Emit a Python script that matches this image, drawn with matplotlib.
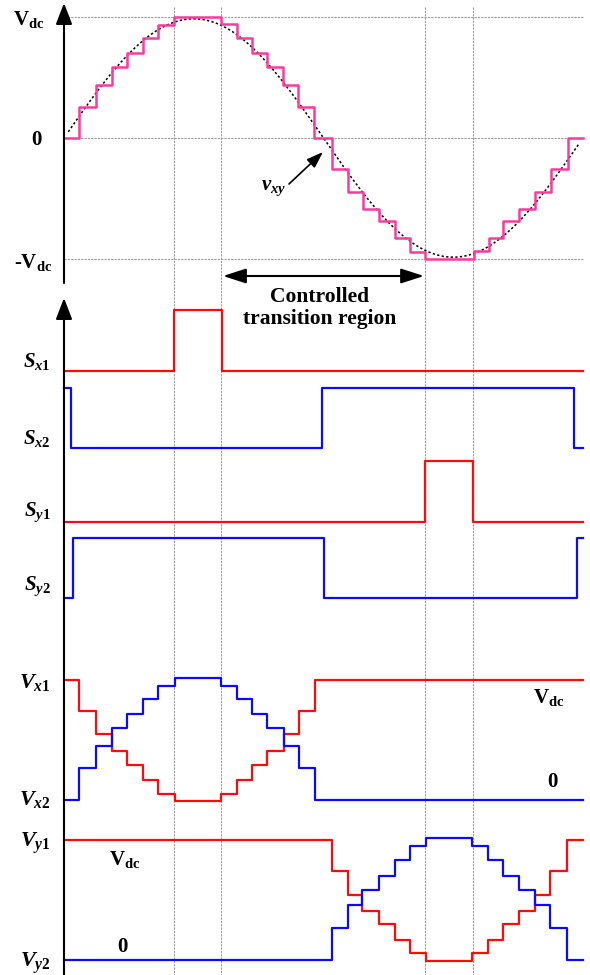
import numpy as np
import matplotlib.pyplot as plt

plt.rcParams['font.family'] = ['Liberation Serif', 'DejaVu Serif']
plt.rcParams['font.weight'] = 'bold'
plt.rcParams['mathtext.fontset'] = 'custom'
plt.rcParams['mathtext.rm'] = 'Liberation Serif:bold'
plt.rcParams['mathtext.it'] = 'Liberation Serif:bold:italic'
plt.rcParams['mathtext.bf'] = 'Liberation Serif:bold'

# --- data (angle in electrical degrees, levels in per-unit of Vdc) ---
vxy_t = [0, 10.4, 22.2, 33.3, 43.7, 54.8, 65.2, 76.3, 108.9, 120.0, 130.4, 140.8, 151.9, 162.3,
         173.4, 185.9, 197.0, 207.4, 218.5, 229.6, 240.0, 250.4, 284.4, 294.8, 304.5, 315.6,
         326.7, 337.8, 349.6, 360]
vxy_v = [0, 0.26, 0.44, 0.59, 0.70, 0.83, 0.93, 1.0, 0.94, 0.83, 0.70, 0.59, 0.44, 0.26,
         0, -0.26, -0.45, -0.59, -0.69, -0.83, -0.94, -1.0, -0.93, -0.83, -0.69, -0.59,
         -0.45, -0.26, 0, 0]
sine_amp = 0.985

sx1_t = [0, 76.3, 109.6, 360]
sx1_v = [0, 1, 0, 0]
sx2_t = [0, 4.6, 179.0, 353.8, 360]
sx2_v = [1, 0, 1, 0, 0]
sy1_t = [0, 250.4, 283.7, 360]
sy1_v = [0, 1, 0, 0]
sy2_t = [0, 6.0, 180.3, 355.8, 360]
sy2_v = [0, 1, 0, 1, 1]

vx_t = [0, 10.4, 22.5, 33.3, 43.7, 54.6, 65.2, 77.0, 108.9, 119.8, 130.2, 140.6, 152.8,
        163.0, 174.1, 360]
vx1_v = [1.0, 0.74, 0.55, 0.41, 0.29, 0.17, 0.05, -0.01, 0.05, 0.17, 0.29, 0.41, 0.55,
         0.74, 1.0, 1.0]
vx2_v = [0.0, 0.27, 0.45, 0.60, 0.72, 0.84, 0.95, 1.02, 0.95, 0.84, 0.72, 0.60, 0.45,
         0.27, 0.0, 0.0]

vy_t = [0, 185.7, 197.2, 206.5, 218.7, 229.6, 240.0, 251.1, 282.8, 294.3, 304.7, 315.8,
        326.7, 337.1, 348.7, 360]
vy1_v = [1.0, 0.74, 0.54, 0.41, 0.30, 0.17, 0.06, -0.01, 0.06, 0.17, 0.30, 0.41, 0.54,
         0.74, 1.0, 1.0]
vy2_v = [0, 0.265, 0.455, 0.58, 0.70, 0.83, 0.95, 1.02, 0.95, 0.83, 0.70, 0.58, 0.455,
         0.265, 0, 0]

grid_t = [76.3, 108.9, 250.4, 283.7]

# --- layout (pixels) ---
W, H = 590, 975
X0, X1 = 64, 583
PX = (X1 - X0) / 360.0

def deg(px):
    return (px - X0) / PX

PINK = '#fa3a9e'
RED = '#ff0a0a'
BLUE = '#0a0aff'
LW = 1.6

fig = plt.figure(figsize=(W / 100, H / 100), dpi=100)
ax = fig.add_axes([0, 0, 1, 1])
ax.set_xlim(deg(0), deg(W))
ax.set_ylim(H, 0)
ax.axis('off')

# grid
ax.vlines(grid_t, 7, H, colors='#9c9c9c', lw=0.8, linestyles=(0, (2, 1)))
top0, topA = 138, 121
ax.hlines([top0 - topA, top0, top0 + topA], 0, 360, colors='#9c9c9c', lw=0.8,
          linestyles=(0, (2, 1)))

# top panel: reference sine and staircase
t = np.linspace(3, 357, 400)
ax.plot(t, top0 - topA * sine_amp * np.sin(np.radians(t)), color='k', lw=1.1,
        linestyle=(0, (1.5, 1.5)))
ax.step(vxy_t, top0 - topA * np.array(vxy_v), where='post', color=PINK, lw=LW + 0.2)

# switching signals
traces = [
    (sx1_t, sx1_v, 371, 61, RED),
    (sx2_t, sx2_v, 448, 60, BLUE),
    (sy1_t, sy1_v, 522, 61, RED),
    (sy2_t, sy2_v, 598, 60, BLUE),
    (vx_t, vx1_v, 800, 120, RED),
    (vx_t, vx2_v, 800, 120, BLUE),
    (vy_t, vy1_v, 960, 120, RED),
    (vy_t, vy2_v, 960, 120, BLUE),
]
for tt, vv, base, amp, col in traces:
    ax.step(tt, base - amp * np.array(vv), where='post', color=col, lw=LW)

# axes arrows
arr = dict(arrowstyle='-|>,head_length=1.3,head_width=0.5', color='k', lw=1.5,
           shrinkA=0, shrinkB=0, mutation_scale=10)
ax.annotate('', xy=(0, 3), xytext=(0, 283), arrowprops=arr)
ax.annotate('', xy=(0, 298), xytext=(0, H + 2), arrowprops=arr)

# controlled transition region
ax.annotate('', xy=(deg(223), 276), xytext=(deg(424), 276),
            arrowprops=dict(arrowstyle='<|-|>,head_length=1.4,head_width=0.45', color='k',
                            lw=1.5, shrinkA=0, shrinkB=0, mutation_scale=10))
ax.text(deg(320), 302, 'Controlled', ha='center', va='baseline', fontsize=15.5)
ax.text(deg(320), 324, 'transition region', ha='center', va='baseline', fontsize=15.5)

# vxy label
ax.annotate('', xy=(deg(323), 152), xytext=(deg(289), 184),
            arrowprops=dict(arrowstyle='-|>,head_length=1.0,head_width=0.35', color='k',
                            lw=1.2, shrinkA=0, shrinkB=0, mutation_scale=10))
ax.text(deg(274), 190, r'$v_{xy}$', ha='center', va='baseline', fontsize=15)

# top-panel level labels
ax.text(deg(29), 25, r'$\mathrm{V_{dc}}$', ha='center', va='baseline', fontsize=15)
ax.text(deg(36), 145, '0', ha='center', va='baseline', fontsize=15)
ax.text(deg(33), 268, r'-$\mathrm{V_{dc}}$', ha='center', va='baseline', fontsize=15)

# signal names
names = [
    (r'$S_{x\mathit{1}}$', 367, 15),
    (r'$S_{x\mathit{2}}$', 444, 15),
    (r'$S_{y\mathit{1}}$', 516, 15),
    (r'$S_{y\mathit{2}}$', 590, 15),
    (r'$V_{x\mathit{1}}$', 688, 16),
    (r'$V_{x\mathit{2}}$', 805, 16),
    (r'$V_{y\mathit{1}}$', 847, 16),
    (r'$V_{y\mathit{2}}$', 967, 16),
]
for s, yb, fs in names:
    ax.text(deg(51), yb, s, ha='right', va='baseline', fontsize=fs)

# level labels on leg voltages
ax.text(deg(549), 703, r'$\mathrm{V_{dc}}$', ha='center', va='baseline', fontsize=15)
ax.text(deg(552), 787, '0', ha='center', va='baseline', fontsize=15)
ax.text(deg(125), 865, r'$\mathrm{V_{dc}}$', ha='center', va='baseline', fontsize=15)
ax.text(deg(122), 952, '0', ha='center', va='baseline', fontsize=15)

fig.savefig('out.png', dpi=100)
